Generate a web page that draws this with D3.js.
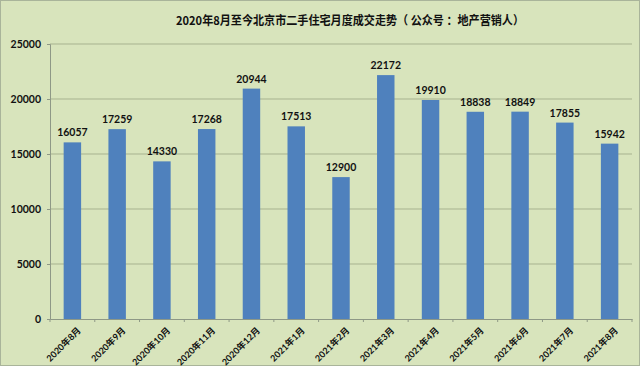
<!DOCTYPE html>
<html><head><meta charset="utf-8">
<script src="https://cdn.jsdelivr.net/npm/d3@7"></script>
<style>html,body{margin:0;padding:0;background:#d8e4bc;}svg{display:block;}</style>
</head><body>
<script>
const categories = ["2020年8月","2020年9月","2020年10月","2020年11月","2020年12月","2021年1月","2021年2月","2021年3月","2021年4月","2021年5月","2021年6月","2021年7月","2021年8月"];
const values = [16057,17259,14330,17268,20944,17513,12900,22172,19910,18838,18849,17855,15942];
const yTicks = [0,5000,10000,15000,20000,25000];
const title = "2020年8月至今北京市二手住宅月度成交走势（ 公众号 ：地产营销人）";

const W = 640, H = 366;
const m = {left:50, right:8, top:44, bottom:47};
const svg = d3.select("body").append("svg").attr("width",W).attr("height",H);
svg.append("rect").attr("x",0.5).attr("y",0.5).attr("width",W-1).attr("height",H-1)
  .attr("fill","#d8e4bc").attr("stroke","#a9b49a");
const font = "Lato, 'Noto Sans CJK SC', sans-serif";

const x = d3.scaleBand().domain(categories).range([m.left, W-m.right]).paddingInner(0.61).paddingOuter(0.305);
const y = d3.scaleLinear().domain([0,25000]).range([H-m.bottom, m.top]);

// gridlines
svg.append("g").selectAll("line").data(yTicks.filter(d=>d>0)).join("line")
  .attr("x1",m.left).attr("x2",W-m.right).attr("y1",d=>y(d)).attr("y2",d=>y(d))
  .attr("stroke","#a7b28f").attr("stroke-width",1);

// y axis
const ya = svg.append("g").attr("transform",`translate(${m.left},0)`)
  .call(d3.axisLeft(y).tickValues(yTicks).tickSize(3).tickPadding(6).tickFormat(d3.format("d")));
ya.select(".domain").attr("stroke","#8e9886");
ya.selectAll(".tick line").attr("stroke","#8e9886");
ya.selectAll("text").attr("font-family",font).attr("font-weight","bold").attr("font-size",10.5).attr("fill","#111");

// x axis
const xa = svg.append("g").attr("transform",`translate(0,${y(0)})`)
  .call(d3.axisBottom(x).tickSize(0).tickPadding(4));
xa.select(".domain").attr("stroke","#8e9886");
xa.selectAll("text").attr("font-family",font).attr("font-weight","bold").attr("font-size",9).attr("fill","#111")
  .attr("text-anchor","end").attr("dy","0.35em")
  .attr("transform","translate(4,7) rotate(-45)");
// minor ticks between categories
const step = x.step();
svg.append("g").selectAll("line").data(d3.range(categories.length+1)).join("line")
  .attr("x1",i=>m.left+i*step).attr("x2",i=>m.left+i*step)
  .attr("y1",y(0)).attr("y2",y(0)+3).attr("stroke","#8e9886");

// bars
svg.append("g").selectAll("rect").data(values).join("rect")
  .attr("x",(d,i)=>x(categories[i])).attr("width",x.bandwidth())
  .attr("y",d=>y(d)).attr("height",d=>y(0)-y(d)).attr("fill","#4f81bd");

// labels
svg.append("g").selectAll("text").data(values).join("text")
  .attr("x",(d,i)=>x(categories[i])+x.bandwidth()/2).attr("y",d=>y(d)-6)
  .attr("text-anchor","middle").attr("font-family",font).attr("font-weight","bold")
  .attr("font-size",10.5).attr("fill","#111").text(d=>d);

// title
svg.append("text").attr("x",176).attr("y",25)
  .attr("textLength",348).attr("lengthAdjust","spacingAndGlyphs")
  .attr("font-family","'Noto Sans CJK SC', sans-serif").attr("font-weight","bold")
  .attr("font-size",12).attr("fill","#111").text(title);
</script>
</body></html>
